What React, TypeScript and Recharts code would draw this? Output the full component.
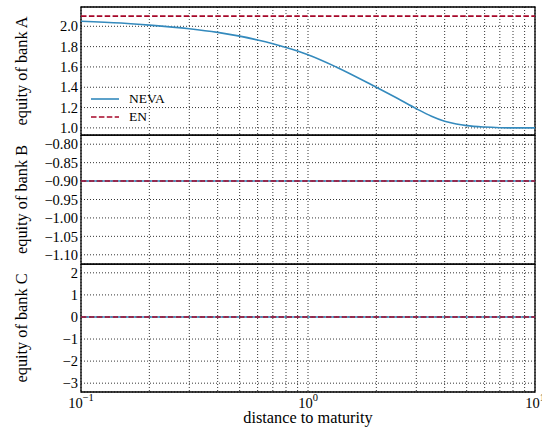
import React from "react";
import {
  LineChart,
  Line,
  XAxis,
  YAxis,
  CartesianGrid,
  ReferenceArea,
  Legend,
  Label,
} from "recharts";

// distance to maturity (log axis) and equity
const distance = [
  0.1, 0.15, 0.2, 0.3, 0.4, 0.5, 0.6, 0.7, 0.8, 0.9, 1, 1.33, 2, 2.45, 3, 3.5,
  4, 4.5, 5, 6, 7, 8, 10,
];
const nevaBankA = [
  2.05, 2.032, 2.012, 1.976, 1.94, 1.903, 1.865, 1.828, 1.792, 1.756, 1.72,
  1.6, 1.4, 1.297, 1.19, 1.115, 1.065, 1.038, 1.022, 1.008, 1.002, 1.0, 1.0,
];
const flatDistance = [0.1, 10];
const enBankA = [2.1, 2.1];
const nevaBankB = [-0.9, -0.9];
const enBankB = [-0.9, -0.9];
const nevaBankC = [0, 0];
const enBankC = [0, 0];

const xTicks = [
  0.1, 0.2, 0.3, 0.4, 0.5, 0.6, 0.7, 0.8, 0.9, 1, 2, 3, 4, 5, 6, 7, 8, 9, 10,
];
const xExponents: Record<number, string> = { 0.1: "\u22121", 1: "0", 10: "1" };
const yTicksA = [1.0, 1.2, 1.4, 1.6, 1.8, 2.0];
const yTicksB = [-1.1, -1.05, -1.0, -0.95, -0.9, -0.85, -0.8];
const yTicksC = [-3, -2, -1, 0, 1, 2];
const legendOrder = ["NEVA", "EN"];

const toRows = (xs: number[], ys: number[]) =>
  xs.map((d, i) => ({ d, v: ys[i] }));

const BLUE = "#348ABD";
const RED = "#A60628";
const FONT = "'Liberation Serif', 'DejaVu Serif', serif";
const W = 542;
const LEFT = 81;
const RIGHT = 7;

const fmt = (digits: number) => (v: number) =>
  (v < 0 ? "\u2212" : "") + Math.abs(v).toFixed(digits);

const yLabel = (text: string) => (props: any) => {
  const vb = props.viewBox || {};
  const cy = vb.y + vb.height / 2;
  return (
    <text
      x={21}
      y={cy}
      transform={`rotate(-90 21 ${cy})`}
      textAnchor="middle"
      dominantBaseline="central"
      fontSize={16.3}
      fill="#000"
    >
      {text}
    </text>
  );
};

// x label sits near the bottom of the x-axis band
const xLabel = (props: any) => {
  const vb = props.viewBox || {};
  return (
    <text
      x={vb.x + vb.width / 2}
      y={vb.y + vb.height - 8}
      textAnchor="middle"
      fontSize={16.3}
      fill="#000"
    >
      distance to maturity
    </text>
  );
};

const XTick = ({ x, y, payload }: any) => {
  const exp = xExponents[payload.value];
  if (exp === undefined) return null;
  return (
    <text x={x} y={y + 15.5} textAnchor="middle" fontSize={14.5} fill="#000">
      <tspan>10</tspan>
      <tspan dy={-6.5} fontSize={10.5}>
        {exp}
      </tspan>
    </text>
  );
};

const renderLegend = (props: any) => {
  const items = [...(props.payload || [])].sort(
    (a: any, b: any) => legendOrder.indexOf(a.value) - legendOrder.indexOf(b.value)
  );
  return (
    <div style={{ fontFamily: FONT, fontSize: 13.5, color: "#000" }}>
      {items.map((entry: any) => (
        <div
          key={entry.value}
          style={{ display: "flex", alignItems: "center", height: 18.3 }}
        >
          <svg width={30} height={6}>
            <line
              x1={1}
              x2={29}
              y1={3}
              y2={3}
              stroke={entry.color}
              strokeWidth={1.6}
              strokeDasharray={entry.payload?.strokeDasharray}
            />
          </svg>
          <span style={{ marginLeft: 9 }}>{entry.value}</span>
        </div>
      ))}
    </div>
  );
};

type PanelProps = {
  height: number;
  margin: { top: number; right: number; bottom: number; left: number };
  domain: [number, number];
  ticks: number[];
  digits: number;
  label: string;
  neva: { d: number; v: number }[];
  en: { d: number; v: number }[];
  showX?: boolean;
  showLegend?: boolean;
};

const Panel = ({
  height,
  margin,
  domain,
  ticks,
  digits,
  label,
  neva,
  en,
  showX,
  showLegend,
}: PanelProps) => (
  <LineChart width={W} height={height} margin={margin}>
    <CartesianGrid stroke="#000" strokeDasharray="1 2" strokeWidth={0.8} />
    <XAxis
      dataKey="d"
      type="number"
      scale="log"
      domain={[0.1, 10]}
      allowDataOverflow
      ticks={xTicks}
      interval={0}
      hide={!showX}
      height={showX ? 39 : 0}
      axisLine={false}
      tickLine={false}
      tickSize={0}
      tickMargin={0}
      tick={<XTick />}
    >
      {showX && <Label content={xLabel} />}
    </XAxis>
    <YAxis
      type="number"
      domain={domain}
      allowDataOverflow
      ticks={ticks}
      interval={0}
      width={LEFT}
      axisLine={false}
      tickLine={false}
      tickSize={0}
      tickMargin={3}
      tickFormatter={fmt(digits)}
      tick={{ fill: "#000", fontSize: 14.5 }}
    >
      <Label content={yLabel(label)} />
    </YAxis>
    <ReferenceArea
      x1={0.1}
      x2={10}
      y1={domain[0]}
      y2={domain[1]}
      fill="none"
      stroke="#000"
      strokeWidth={1.3}
      ifOverflow="visible"
    />
    {showLegend && (
      <Legend
        layout="horizontal"
        verticalAlign="middle"
        align="center"
        content={renderLegend}
        wrapperStyle={{ left: 90, top: 90, width: "auto" }}
      />
    )}
    <Line
      data={neva}
      dataKey="v"
      name="NEVA"
      type="monotone"
      stroke={BLUE}
      strokeWidth={1.6}
      dot={false}
      isAnimationActive={false}
    />
    <Line
      data={en}
      dataKey="v"
      name="EN"
      type="linear"
      stroke={RED}
      strokeWidth={1.6}
      strokeDasharray="5.5 2.4"
      dot={false}
      isAnimationActive={false}
    />
  </LineChart>
);

export default function App() {
  return (
    <div
      style={{
        position: "absolute",
        left: 0,
        top: 0,
        width: W,
        height: 431,
        fontFamily: FONT,
        background: "#fff",
      }}
    >
      <div style={{ position: "absolute", left: 0, top: 0 }}>
        <Panel
          height={136}
          margin={{ top: 7, right: RIGHT, bottom: 1, left: 0 }}
          domain={[0.93, 2.19]}
          ticks={yTicksA}
          digits={1}
          label="equity of bank A"
          neva={toRows(distance, nevaBankA)}
          en={toRows(flatDistance, enBankA)}
          showLegend
        />
      </div>
      <div style={{ position: "absolute", left: 0, top: 135 }}>
        <Panel
          height={130}
          margin={{ top: 0, right: RIGHT, bottom: 1, left: 0 }}
          domain={[-1.125, -0.775]}
          ticks={yTicksB}
          digits={2}
          label="equity of bank B"
          neva={toRows(flatDistance, nevaBankB)}
          en={toRows(flatDistance, enBankB)}
        />
      </div>
      <div style={{ position: "absolute", left: 0, top: 264 }}>
        <Panel
          height={167}
          margin={{ top: 0, right: RIGHT, bottom: 0, left: 0 }}
          domain={[-3.4, 2.4]}
          ticks={yTicksC}
          digits={0}
          label="equity of bank C"
          neva={toRows(flatDistance, nevaBankC)}
          en={toRows(flatDistance, enBankC)}
          showX
        />
      </div>
    </div>
  );
}
